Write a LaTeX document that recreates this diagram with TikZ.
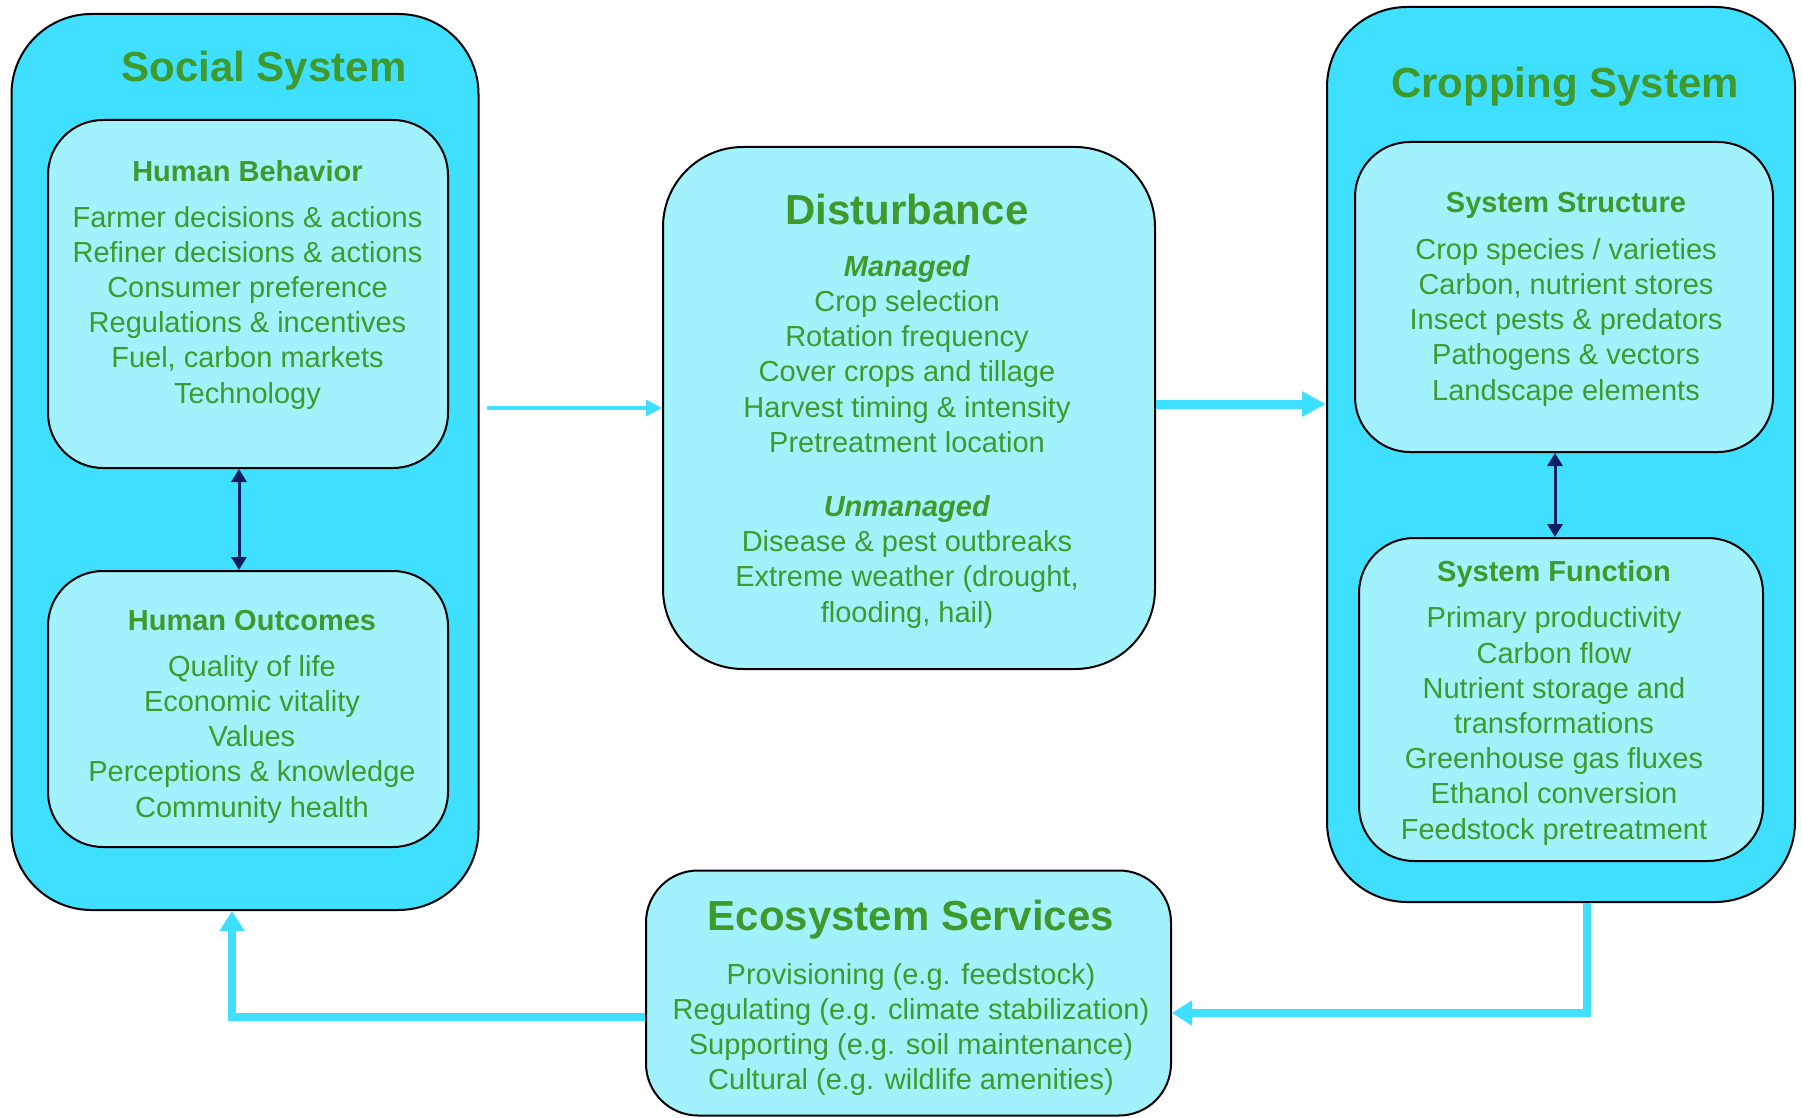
\documentclass[tikz,border=0pt]{standalone}
\usepackage{fontspec}
\setmainfont{Liberation Sans}
\usetikzlibrary{arrows.meta}
\definecolor{outerfill}{HTML}{3FDFFF}
\definecolor{innerfill}{HTML}{A2F2FD}
\definecolor{txtgreen}{HTML}{3F9A2B}
\definecolor{navy}{HTML}{0A2060}
\begin{document}
\begin{tikzpicture}[x=1pt,y=-1pt,
  outerbox/.style={draw=black, line width=2pt, fill=outerfill, rounded corners=80pt, inner sep=0pt},
  innerbox/.style={draw=black, line width=2pt, fill=innerfill, rounded corners=55pt, inner sep=0pt},
  title/.style={text=txtgreen, font=\fontsize{42}{50}\selectfont\bfseries, anchor=base, inner sep=0pt},
  heading/.style={text=txtgreen, font=\fontsize{29}{35.2}\selectfont\bfseries, anchor=base, inner sep=0pt},
  % multi-line body text: anchored on the baseline of its last line
  body/.style={text=txtgreen, font=\fontsize{29}{35.2}\selectfont, anchor=base, align=center, inner sep=0pt},
  flow/.style={draw=outerfill, line width=8pt, -{Triangle[length=20pt,width=24pt]}},
  link/.style={draw=navy, line width=3pt, {Triangle[length=13pt,width=15pt]}-{Triangle[length=13pt,width=15pt]}}
]
\useasboundingbox (0,0) rectangle (1802,1118);

% --- Social system ---
\node[outerbox, minimum width=467pt, minimum height=896pt] (social) at (245,462) {};
\node[innerbox, minimum width=400pt, minimum height=348pt] (hb) at (248,294) {};
\node[innerbox, minimum width=400pt, minimum height=276pt] (ho) at (248,709) {};
\node[title] (socialT) at (264,82) {Social System};
\node[heading] (hbT) at (247.5,182) {Human Behavior};
\node[body] (hbB) at (247.5,403) {Farmer decisions \& actions\\Refiner decisions \& actions\\Consumer preference\\Regulations \& incentives\\Fuel, carbon markets\\Technology};
\node[heading] (hoT) at (252,630) {Human Outcomes};
\node[body] (hoB) at (252,817) {Quality of life\\Economic vitality\\Values\\Perceptions \& knowledge\\Community health};

% --- Disturbance ---
\node[innerbox, rounded corners=80pt, minimum width=492pt, minimum height=522pt] (dist) at (909,408) {};
\node[title] (distT) at (907,225) {Disturbance};
\node[body] (distB) at (907,622) {\textbf{\textit{Managed}}\\Crop selection\\Rotation frequency\\Cover crops and tillage\\Harvest timing \& intensity\\Pretreatment location\\[29pt]\textbf{\textit{Unmanaged}}\\Disease \& pest outbreaks\\Extreme weather (drought,\\flooding, hail)};

% --- Cropping system ---
\node[outerbox, minimum width=468pt, minimum height=895pt] (crop) at (1561,454.5) {};
\node[innerbox, minimum width=418pt, minimum height=310pt] (ss) at (1564,297) {};
\node[innerbox, minimum width=404pt, minimum height=323pt] (sf) at (1561,699.5) {};
\node[title] (cropT) at (1565,98) {Cropping System};
\node[heading] (ssT) at (1566,213) {System Structure};
\node[body] (ssB) at (1566,400) {Crop species / varieties\\Carbon, nutrient stores\\Insect pests \& predators\\Pathogens \& vectors\\Landscape elements};
\node[heading] (sfT) at (1554,581) {System Function};
\node[body] (sfB) at (1554,839) {Primary productivity\\Carbon flow\\Nutrient storage and\\transformations\\Greenhouse gas fluxes\\Ethanol conversion\\Feedstock pretreatment};

% --- Ecosystem services ---
\node[innerbox, rounded corners=52pt, minimum width=525pt, minimum height=245pt] (eco) at (908.5,993) {};
\node[title] (ecoT) at (911,930) {Ecosystem Services};
\node[body] (ecoB) at (911,1089.6) {Provisioning (e.g. feedstock)\\Regulating (e.g. climate stabilization)\\Supporting (e.g. soil maintenance)\\Cultural (e.g. wildlife amenities)};

% --- Connectors ---
\coordinate (sOut) at (487,408);
\draw[draw=outerfill, line width=3.5pt, -{Triangle[length=16pt,width=16pt]}] (sOut) -- (dist.west);
\draw[draw=outerfill, line width=9pt, -{Triangle[length=24pt,width=24pt]}] (dist.east |- 0,404) -- (crop.west |- 0,404);
\draw[link] ([xshift=-9pt]hb.south) -- ([xshift=-9pt]ho.north);
\draw[link] ([xshift=-9pt]ss.south) -- ([xshift=-6pt]sf.north);
\draw[flow] ([xshift=26pt]crop.south) |- ([yshift=-20pt]eco.east);
\draw[flow] ([yshift=-24pt]eco.west) -| ([xshift=-13pt]social.south);
\end{tikzpicture}
\end{document}
